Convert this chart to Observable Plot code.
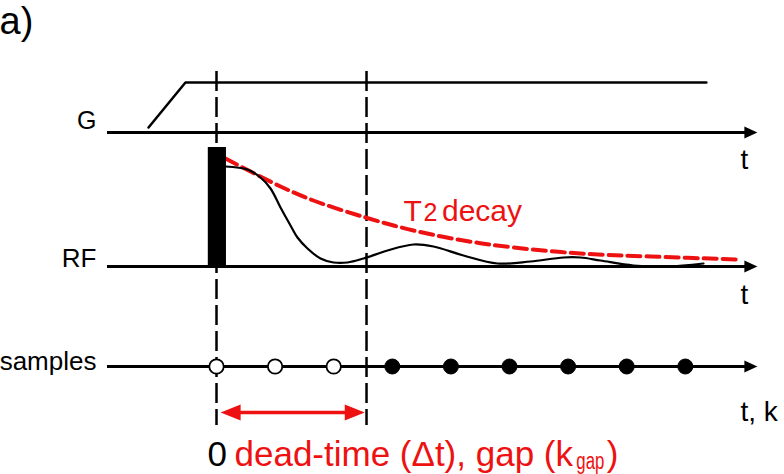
<!DOCTYPE html>
<html><head><meta charset="utf-8">
<script src="https://cdn.jsdelivr.net/npm/d3@7"></script>
<script src="https://cdn.jsdelivr.net/npm/@observablehq/plot@0.6"></script>
<style>
html,body{margin:0;padding:0;background:#fff;}
svg{display:block;font-family:"Liberation Sans",Arial,sans-serif;}
</style>
</head><body><div id="chart"></div>
<script>
// ---- data (x in sample units k, amplitudes above each channel baseline) ----
const sampleK = [0, 1, 2, 3, 4, 5, 6, 7, 8];
const kGap = 3;            // first acquired sample
const deadTime = 2.56;     // dead-time Δt in sample intervals
const gradK   = [-1.16, -0.53, 8.36];
const gradAmp = [5, 50, 50];
const rfK   = [0.154, 0.529, 0.751, 0.922, 1.092, 1.263, 1.382, 1.553, 1.775, 1.997, 2.235, 2.509, 2.918, 3.362, 3.703, 4.215, 4.795, 5.358, 5.922, 6.212, 6.553, 7.116, 7.696, 8.311];
const rfAmp = [100, 97, 89, 78, 59, 41, 29, 18, 8, 4, 4, 8, 16, 22, 20, 11, 3, 5, 9, 9, 6, 1, 0, 3];
const t2K   = [0.154, 1.092, 1.655, 2.543, 3.362, 4.215, 5.068, 6.212, 7.406, 8.908];
const t2Amp = [108, 80, 66, 49, 36, 26, 19, 13, 10, 7];
const pulseK = [-0.14, 0.17];
const pulseAmp = 119;
const channels = ["G", "RF", "samples"];
const baselines = [132, 266, 366];
const axisLabels = ["t", "t", "t, k"];
const axisLabelY = [168, 303, 420];
const axisStartK = -1.86, axisEndK = 9.23;
const panelLabel = "a)";
const t2Label = ["T", "2", "decay"];
const gapLabel = ["dead-time (Δt), gap (k", "gap", ")"];
const zeroLabel = "0";

// ---- helpers ----
const headRight = (len, half) => ({draw(c){c.moveTo(0,0);c.lineTo(-len,-half);c.lineTo(-len,half);c.closePath();}});
const headLeft  = (len, half) => ({draw(c){c.moveTo(0,0);c.lineTo(len,-half);c.lineTo(len,half);c.closePath();}});

const gradData = gradK.map((k,i)=>({k, y: baselines[0]-gradAmp[i]}));
const rfData = rfK.map((k,i)=>({k, y: baselines[1]-rfAmp[i]}));
const t2Data = t2K.map((k,i)=>({k, y: baselines[1]-t2Amp[i]}));
const axes = baselines.map((y,i)=>({y, label: axisLabels[i], ly: axisLabelY[i], name: channels[i]}));

const red = "#ee1111";
const font = "Liberation Sans, Arial, sans-serif";
const chart = Plot.plot({
  width: 784, height: 474, margin: 0,
  x: {domain: [-216/58.6, 568/58.6], axis: null},
  y: {domain: [0, 474], range: [0, 474], axis: null},
  style: {fontFamily: font, background: "white"},
  marks: [
    // channel axes
    Plot.ruleY(axes, {y: "y", x1: axisStartK, x2: axisEndK - 0.1, stroke: "black", strokeWidth: 3}),
    Plot.dot(axes, {x: axisEndK, y: "y", symbol: headRight(13, 6), fill: "black", stroke: "none"}),
    // gradient waveform
    Plot.line(gradData, {x: "k", y: "y", stroke: "black", strokeWidth: 2.5}),
    // dashed time markers
    Plot.ruleX([0, deadTime], {y1: 71, y2: 425, stroke: "black", strokeWidth: 2.5, strokeDasharray: "20,6"}),
    // T2 decay envelope
    Plot.line(t2Data, {x: "k", y: "y", stroke: red, strokeWidth: 4, strokeDasharray: "13,6", curve: "catmull-rom"}),
    // RF signal
    Plot.line(rfData, {x: "k", y: "y", stroke: "black", strokeWidth: 2.2, curve: "catmull-rom"}),
    // RF pulse
    Plot.rect([0], {x1: pulseK[0], x2: pulseK[1], y1: baselines[1], y2: baselines[1]-pulseAmp, fill: "black"}),
    // samples
    Plot.dot(sampleK.filter(k=>k<kGap), {x: d=>d, y: baselines[2], r: 7.2, fill: "white", stroke: "black", strokeWidth: 1.8}),
    Plot.dot(sampleK.filter(k=>k>=kGap), {x: d=>d, y: baselines[2], r: 7.5, fill: "black", stroke: "black", strokeWidth: 1}),
    // dead-time double arrow
    Plot.ruleY([412], {y: d=>d, x1: 0.3, x2: 2.3, stroke: red, strokeWidth: 3.5}),
    Plot.dot([412], {x: 0.07, y: d=>d, symbol: headLeft(20, 8), fill: red, stroke: "none"}),
    Plot.dot([412], {x: 2.53, y: d=>d, symbol: headRight(20, 8), fill: red, stroke: "none"}),
    // channel labels
    Plot.text(axes, {x: -2.048, y: d=>d.name==="G"?128:(d.name==="RF"?266:369), text: "name", textAnchor: "end", lineAnchor: "bottom", fontSize: d=>d.name==="G"?25:26, fill: "black"}),
    Plot.text(axes, {x: 8.942, y: "ly", text: "label", textAnchor: "start", lineAnchor: "bottom", fontSize: 28, fill: "black"}),
    // panel label
    Plot.text([panelLabel], {x: -3.703, y: 33, text: d=>d, textAnchor: "start", lineAnchor: "bottom", fontSize: 38, fill: "black"}),
    // T2 decay label
    Plot.text([t2Label[0]], {x: 3.191, y: 220, text: d=>d, textAnchor: "start", lineAnchor: "bottom", fontSize: 30, fill: red}),
    Plot.text([t2Label[1]], {x: 3.532, y: 220, text: d=>d, textAnchor: "start", lineAnchor: "bottom", fontSize: 25, fill: red}),
    Plot.text([t2Label[2]], {x: 3.848, y: 220, text: d=>d, textAnchor: "start", lineAnchor: "bottom", fontSize: 30, fill: red}),
    // bottom labels
    Plot.text([zeroLabel], {x: -0.154, y: 465, text: d=>d, textAnchor: "start", lineAnchor: "bottom", fontSize: 35, fill: "black"}),
    Plot.text([gapLabel[0]], {x: 0.307, y: 465, text: d=>d, textAnchor: "start", lineAnchor: "bottom", fontSize: 35, fill: red}),
    Plot.text([gapLabel[1]], {x: 6.14, y: 468, text: d=>d, textAnchor: "start", lineAnchor: "bottom", fontSize: 23, fill: red, className: "subgap"}),
    Plot.text([gapLabel[2]], {x: 6.66, y: 465, text: d=>d, textAnchor: "start", lineAnchor: "bottom", fontSize: 35, fill: red})
  ]
});
// condense the subscript like the reference
d3.select(chart).selectAll(".subgap text").attr("textLength", 28).attr("lengthAdjust", "spacingAndGlyphs");
document.getElementById("chart").append(chart);
</script>
</body></html>
